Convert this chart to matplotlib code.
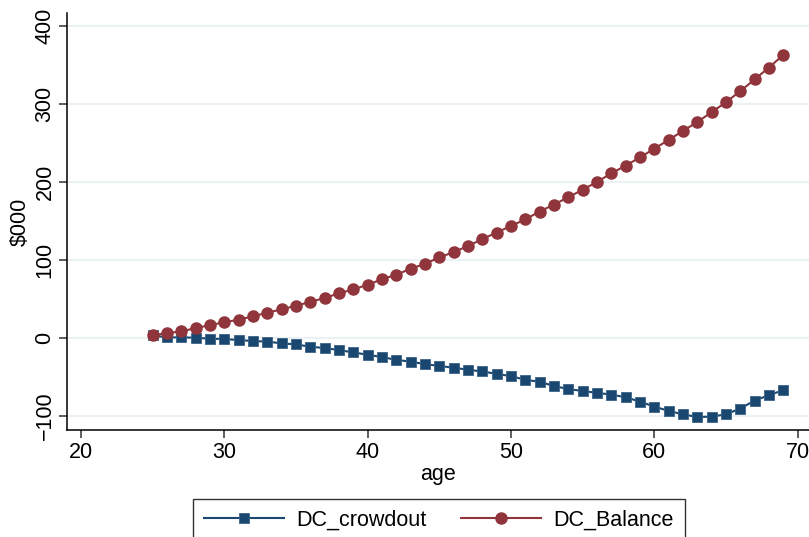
import numpy as np
import matplotlib
matplotlib.use("Agg")
import matplotlib.pyplot as plt

# data ($000 by age)
age = list(range(25, 70))
dc_balance = [3, 6, 8, 12.5, 16, 20, 23, 27.5, 32, 36.5, 41, 46, 51, 57, 62,
              68, 75, 81, 88.5, 95, 103, 110, 117.7, 126.7, 135, 143.5, 152,
              162, 171, 180.4, 190, 200, 211, 221, 231.5, 242.7, 254, 265.5,
              277, 289.5, 302.4, 316.6, 331.6, 347, 363]
dc_crowdout = [3, 0.4, 0.4, 0, -1.3, -1.7, -3, -4.3, -5, -7.3, -8.6, -11.6,
               -13.3, -15.9, -18.9, -21.9, -24.9, -28.4, -30.8, -33.9, -36.3,
               -38.5, -41.2, -43.4, -46.4, -49.4, -54, -56.7, -61.9, -66.1,
               -68.3, -70.9, -73, -76.5, -82, -88.5, -94, -98.4, -101.8,
               -101.4, -98.4, -91, -80.8, -73.9, -67.4]

navy = '#1a476f'
maroon = '#90353b'
grid_col = '#eaf2f3'

plt.rcParams['font.family'] = ['Liberation Sans', 'DejaVu Sans']

fig = plt.figure(figsize=(8.09, 5.37), dpi=100)
ax = fig.add_axes([0.0832, 0.1993, 1 - 0.0832, 0.9758 - 0.1993])

ax.plot(age, dc_crowdout, color=navy, lw=1.5, marker='s', markersize=7.5,
        markeredgecolor='#3d6388', markeredgewidth=0.6, label='DC_crowdout')
ax.plot(age, dc_balance, color=maroon, lw=1.5, marker='o', markersize=8,
        markeredgecolor=maroon, label='DC_Balance')

ax.set_xlim(19.04, 70.8)
ax.set_ylim(-118.5, 417)
ax.set_xticks([20, 30, 40, 50, 60, 70])
ax.set_yticks([-100, 0, 100, 200, 300, 400])

ax.yaxis.grid(True, color=grid_col, lw=1.5)
ax.set_axisbelow(True)
for s in ['top', 'right']:
    ax.spines[s].set_visible(False)
ax.spines['left'].set_linewidth(1.1)
ax.spines['bottom'].set_linewidth(1.1)

ax.tick_params(axis='both', direction='out', length=5.5, width=1.1,
               labelsize=15.5, color='#333333')
ax.tick_params(axis='x', pad=3)
ax.tick_params(axis='y', pad=3)
plt.setp(ax.get_yticklabels(), rotation=90, va='center')

ax.set_xlabel('age', fontsize=15.5, labelpad=1)
ax.set_ylabel('$000', fontsize=15.5, labelpad=3)

leg = fig.legend(loc='upper center', bbox_to_anchor=(439 / 809, 1 - 499 / 537),
                 ncol=2, fontsize=15.5, frameon=True, fancybox=False,
                 edgecolor='black', handlelength=3.7, handletextpad=0.6,
                 columnspacing=1.6, borderpad=0.5, borderaxespad=0)
leg.get_frame().set_linewidth(1.0)

fig.savefig('out.png', dpi=100)
